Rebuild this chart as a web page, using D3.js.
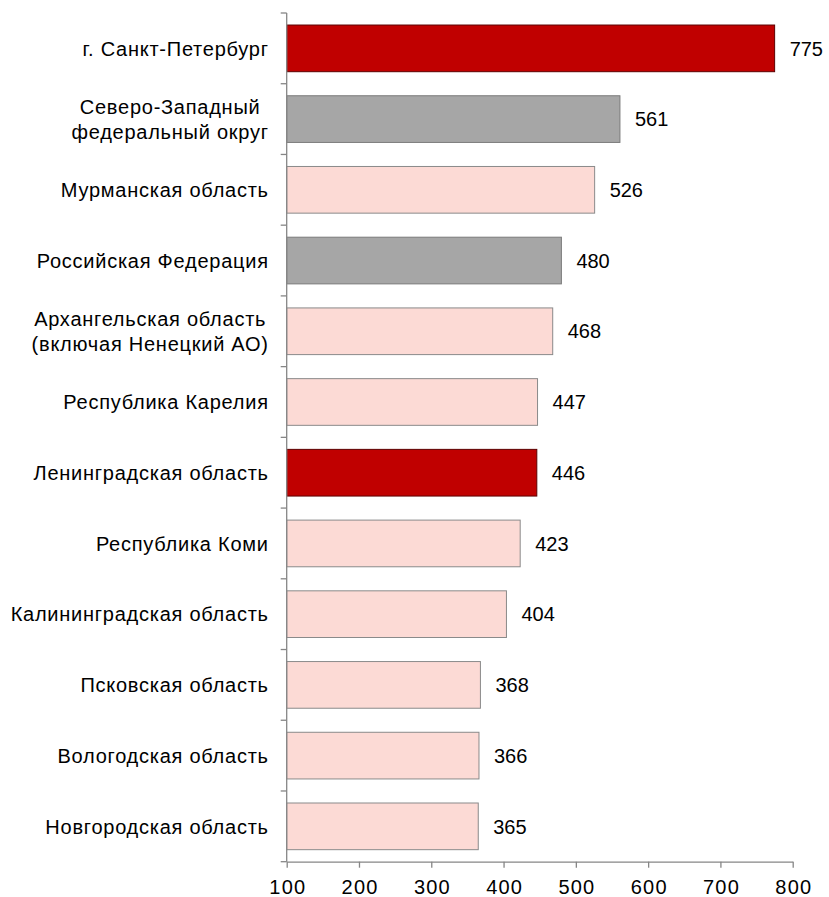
<!DOCTYPE html>
<html>
<head>
<meta charset="utf-8">
<script src="https://cdn.jsdelivr.net/npm/d3@7"></script>
<style>
  html, body { margin: 0; padding: 0; background: #fff; }
  svg { display: block; font-family: "Liberation Sans", Arial, sans-serif; }
</style>
</head>
<body>
<svg id="chart" width="829" height="897"></svg>
<script>
/* ---------- data ---------- */
const categories = [
  "г. Санкт-Петербург",
  "Северо-Западный\nфедеральный округ",
  "Мурманская область",
  "Российская Федерация",
  "Архангельская область\n(включая Ненецкий АО)",
  "Республика Карелия",
  "Ленинградская область",
  "Республика Коми",
  "Калининградская область",
  "Псковская область",
  "Вологодская область",
  "Новгородская область"
];
const values = [775, 561, 526, 480, 468, 447, 446, 423, 404, 368, 366, 365];
// highlight = red, total = grey, region = pink
const kinds = ["highlight", "total", "region", "total", "region", "region",
               "highlight", "region", "region", "region", "region", "region"];
const xTicks = [100, 200, 300, 400, 500, 600, 700, 800];

/* ---------- styles ---------- */
const fills = { highlight: "#C00000", total: "#A6A6A6", region: "#FCDAD5" };
const strokes = { highlight: "#5C0000", total: "#7A7A7A", region: "#8A8A8A" };
const axisColor = "#868686";
const fontSize = 20;
const labelSpacing = 0.75;

const svg = d3.select("#chart");

const x = d3.scaleLinear().domain([100, 800]).range([286.7, 792.7]);
const y = d3.scaleBand()
  .domain(categories)
  .range([13, 861.7])
  .paddingInner(0.34)
  .paddingOuter(0.17);

const rows = categories.map((c, i) => ({ name: c, value: values[i], kind: kinds[i] }));

/* ---------- bars ---------- */
svg.append("g").selectAll("rect")
  .data(rows)
  .enter().append("rect")
  .attr("x", x(100))
  .attr("y", d => y(d.name))
  .attr("width", d => x(d.value) - x(100))
  .attr("height", y.bandwidth())
  .attr("fill", d => fills[d.kind])
  .attr("stroke", d => strokes[d.kind])
  .attr("stroke-width", 1);

/* ---------- value labels ---------- */
svg.append("g").selectAll("text")
  .data(rows)
  .enter().append("text")
  .attr("x", d => x(d.value) + 15)
  .attr("y", d => y(d.name) + y.bandwidth() / 2)
  .attr("dy", "0.36em")
  .attr("font-size", fontSize)
  .attr("fill", "#000")
  .text(d => d.value);

/* ---------- category labels ---------- */
const labelRight = 268;
const lineH = 25;
const labels = svg.append("g");
rows.forEach(d => {
  const lines = d.name.split("\n");
  const cy = y(d.name) + y.bandwidth() / 2;
  const t = labels.append("text")
    .attr("font-size", fontSize)
    .attr("letter-spacing", labelSpacing)
    .attr("fill", "#000");
  lines.forEach((ln, k) => {
    t.append("tspan")
      .attr("y", cy + (k - (lines.length - 1) / 2) * lineH)
      .attr("dy", "0.36em")
      .text(ln);
  });
  // right-align the block, center lines inside it
  const spans = t.selectAll("tspan").nodes();
  const w = d3.max(spans, s => s.getComputedTextLength()) - labelSpacing;
  t.attr("text-anchor", "middle");
  spans.forEach(s => s.setAttribute("x", labelRight - w / 2 + labelSpacing / 2));
});

/* ---------- y axis (category) ---------- */
const step = y.step();
const bounds = categories.map(c => y(c) - step * y.paddingInner() / 2);
bounds.push(y.range()[1]);

const yAxis = svg.append("g");
yAxis.append("line")
  .attr("x1", x(100)).attr("x2", x(100))
  .attr("y1", bounds[0]).attr("y2", bounds[bounds.length - 1])
  .attr("stroke", axisColor).attr("stroke-width", 1.3);
yAxis.selectAll(".tk")
  .data(bounds)
  .enter().append("line")
  .attr("x1", x(100) - 6).attr("x2", x(100))
  .attr("y1", d => d).attr("y2", d => d)
  .attr("stroke", axisColor).attr("stroke-width", 1.3);

/* ---------- x axis ---------- */
const xAxis = svg.append("g")
  .attr("transform", `translate(0,${y.range()[1]})`)
  .call(d3.axisBottom(x).tickValues(xTicks).tickSize(6).tickPadding(12).tickSizeOuter(0));
xAxis.select(".domain").attr("stroke", axisColor).attr("stroke-width", 1.3);
xAxis.selectAll(".tick line").attr("stroke", axisColor).attr("stroke-width", 1.3);
xAxis.selectAll(".tick text")
  .attr("font-size", fontSize)
  .attr("font-family", "Liberation Sans, Arial, sans-serif")
  .attr("letter-spacing", 1.2)
  .attr("dx", 0.6)
  .attr("fill", "#000");
</script>
</body>
</html>
